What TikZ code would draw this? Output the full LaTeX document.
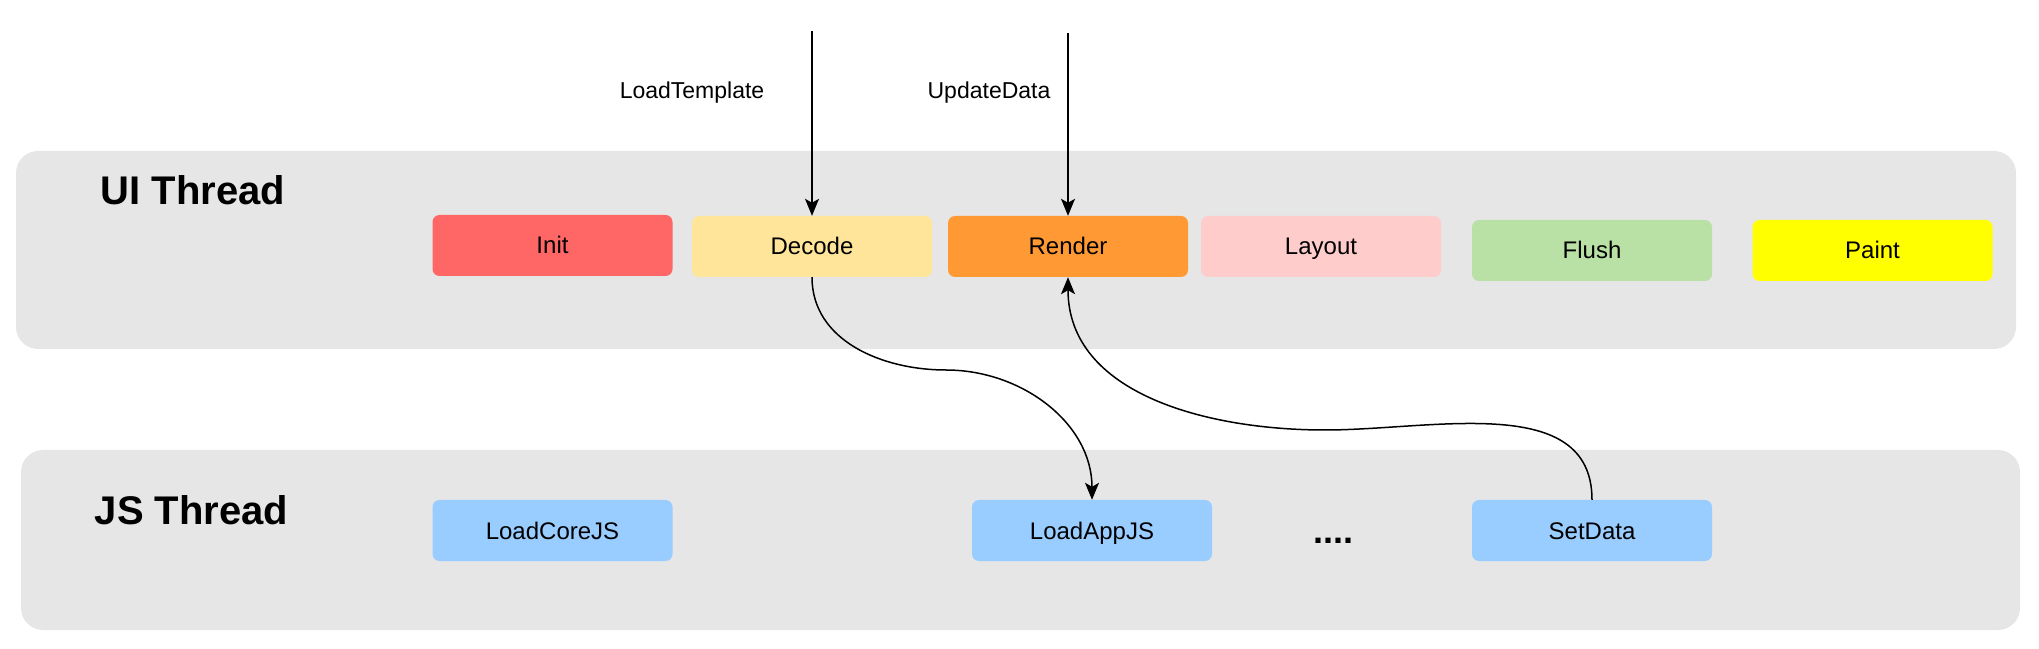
\documentclass[tikz,border=0pt]{standalone}
\usepackage{fontspec}
\setmainfont{Liberation Sans}
\usepackage{xcolor}
\definecolor{lanegray}{HTML}{E6E6E6}
\definecolor{initred}{HTML}{FF6666}
\definecolor{decodeyellow}{HTML}{FFE599}
\definecolor{renderorange}{HTML}{FF9933}
\definecolor{layoutpink}{HTML}{FFCCCC}
\definecolor{flushgreen}{HTML}{B9E0A5}
\definecolor{paintyellow}{HTML}{FFFF00}
\definecolor{jsblue}{HTML}{99CCFF}
\usepackage{tikz}
\usetikzlibrary{
  arrows.meta,
  positioning
}

\begin{document}
\begin{tikzpicture}[
  x=1pt, y=1pt,
  lane/.style={
    fill=lanegray, draw=none, rounded corners=22pt
  },
  stage/.style={
    draw=none, rounded corners=7pt, minimum width=240pt,
    minimum height=61pt, font=\fontsize{24}{28}\selectfont,
    text height=17pt, text depth=0pt, align=center
  },
  title/.style={font=\fontsize{40}{46}\selectfont\bfseries, anchor=base},
  lbl/.style={font=\fontsize{23}{27}\selectfont, anchor=base},
  arr/.style={-{Stealth[length=17pt, width=14pt, inset=4pt]}, line width=1.5pt},
]

\useasboundingbox (0,0) rectangle (2039,648);

% thread lanes
\node[lane, minimum width=2000pt, minimum height=198pt] (uilane) at (1016, 398) {};
\node[lane, minimum width=1999pt, minimum height=180pt] (jslane) at (1020.5, 108) {};

\node[title] (uititle) at (193, 443) {UI Thread};
\node[title] (jstitle) at (191.5, 123) {JS Thread};

% UI thread stages
\node[stage, fill=initred]      (init)   at (552.5, 402.5) {Init};
\node[stage, fill=decodeyellow] (decode) at (812, 401.5)   {Decode};
\node[stage, fill=renderorange] (render) at (1068, 401.5)  {Render};
\node[stage, fill=layoutpink]   (layout) at (1321, 401.5)  {Layout};
\node[stage, fill=flushgreen]   (flush)  at (1592, 397.5)  {Flush};
\node[stage, fill=paintyellow]  (paint)  at (1872.5, 397.5) {Paint};

% JS thread stages
\node[stage, fill=jsblue] (loadcore) at (552.5, 117.5) {LoadCoreJS};
\node[stage, fill=jsblue] (loadapp)  at (1092, 117.5)  {LoadAppJS};
\node[stage, fill=jsblue] (setdata)  at (1592, 117.5)  {SetData};
\node[font=\fontsize{36}{40}\selectfont\bfseries, anchor=base] (more) at (1333, 104) {....};

% incoming calls
\coordinate (tplin) at (812, 617);
\coordinate (updin) at (1068, 615);
\node[lbl] (tpllbl) at (692, 549) {LoadTemplate};
\node[lbl] (updlbl) at (989, 549) {UpdateData};
\draw[arr] (tplin) -- (decode.north);
\draw[arr] (updin) -- (render.north);

% cross-thread curves
\coordinate (mida) at (946, 278);
\coordinate (midb) at (1325, 218);
\draw[arr] (decode.south) to[out=-90, in=180] (mida) to[out=0, in=90] (loadapp.north);
\draw[arr] (setdata.north) to[out=90, in=0] (midb) to[out=180, in=-90] (render.south);

\end{tikzpicture}
\end{document}
